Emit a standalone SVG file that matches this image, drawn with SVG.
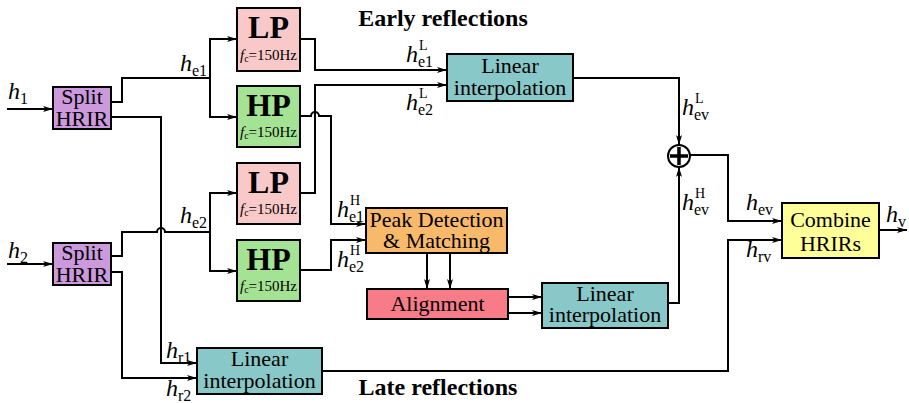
<svg xmlns="http://www.w3.org/2000/svg" width="909" height="403" viewBox="0 0 909 403" font-family="'Liberation Serif', 'DejaVu Serif', serif">
<style>
text{font-family:'Liberation Serif','DejaVu Serif',serif}
.box{stroke:#000;stroke-width:2}
.t{font-size:22px;text-anchor:middle;fill:#000}
.b{font-weight:bold;font-size:32px;text-anchor:middle}
.fc{font-size:15px;text-anchor:middle}
.ttl{font-weight:bold;font-size:24px;text-anchor:middle}
.h{font-style:italic;font-size:24px}
.s{font-size:16px}
.p{font-size:14px}
.c{fill:none;stroke:#000;stroke-width:2}
.a{marker-end:url(#ah)}
</style>
<defs>
<marker id="ah" viewBox="0 0 10 6" refX="10" refY="3" markerWidth="10" markerHeight="6" markerUnits="userSpaceOnUse" orient="auto"><path d="M0,0 L10,3 L0,6 L2.5,3 z" fill="#000"/></marker>
</defs>
<rect width="909" height="403" fill="#fff"/>

<g id="connectors">
<path class="c a" d="M7,109 H53"/>
<path class="c a" d="M7,264 H53"/>
<path class="c a" d="M111,102 H122 V78 H210 V39 H237"/>
<path class="c a" d="M210,78 V117 H237"/>
<path class="c a" d="M111,117 H161 V363 H197"/>
<path class="c a" d="M111,256 H122 V232 H157 A4,4 0 0 1 165,232 H210 V193 H237"/>
<path class="c a" d="M210,232 V271 H237"/>
<path class="c a" d="M111,272 H122 V378 H197"/>
<path class="c a" d="M300,39 H315 V70 H447"/>
<path class="c a" d="M300,116 H311 A4,4 0 0 1 319,116 H331 V224 H366"/>
<path class="c a" d="M300,193 H315 V85 H447"/>
<path class="c a" d="M300,270 H331 V240 H366"/>
<path class="c a" d="M427,253 V289"/>
<path class="c a" d="M450,253 V289"/>
<path class="c a" d="M508,297 H542"/>
<path class="c a" d="M508,313 H542"/>
<path class="c a" d="M573,78 H679 V145"/>
<path class="c a" d="M668,303 H679 V167"/>
<path class="c a" d="M690,155 H728 V221 H782"/>
<path class="c a" d="M322,371 H728 V240 H782"/>
<path class="c a" d="M879,230 H907"/>
</g>

<g id="split1"><rect class="box" x="53" y="87" width="58" height="42" fill="#CC99DD"/><text class="t" x="82" y="104">Split</text><text class="t" x="82" y="126">HRIR</text></g>
<g id="split2"><rect class="box" x="53" y="243" width="58" height="42" fill="#CC99DD"/><text class="t" x="82" y="260">Split</text><text class="t" x="82" y="282">HRIR</text></g>

<g id="lp1"><rect class="box" x="237" y="8" width="63" height="63" fill="#F9C9C9"/><text class="b" x="268.5" y="38">LP</text><text class="fc" x="268.5" y="60"><tspan font-style="italic">f</tspan><tspan font-size="10" dy="2">c</tspan><tspan dy="-2">=150Hz</tspan></text></g>
<g id="hp1"><rect class="box" x="237" y="86" width="63" height="61" fill="#A3E393"/><text class="b" x="268.5" y="116">HP</text><text class="fc" x="268.5" y="137"><tspan font-style="italic">f</tspan><tspan font-size="10" dy="2">c</tspan><tspan dy="-2">=150Hz</tspan></text></g>
<g id="lp2"><rect class="box" x="237" y="163" width="63" height="61" fill="#F9C9C9"/><text class="b" x="268.5" y="193">LP</text><text class="fc" x="268.5" y="214"><tspan font-style="italic">f</tspan><tspan font-size="10" dy="2">c</tspan><tspan dy="-2">=150Hz</tspan></text></g>
<g id="hp2"><rect class="box" x="237" y="240" width="63" height="61" fill="#A3E393"/><text class="b" x="268.5" y="270">HP</text><text class="fc" x="268.5" y="291"><tspan font-style="italic">f</tspan><tspan font-size="10" dy="2">c</tspan><tspan dy="-2">=150Hz</tspan></text></g>

<g id="li1"><rect class="box" x="447" y="54" width="126" height="47" fill="#88C8C8"/><text class="t" x="510" y="73">Linear</text><text class="t" x="510" y="95">interpolation</text></g>
<g id="peak"><rect class="box" x="366" y="208" width="141" height="45" fill="#F9B96B"/><text class="t" x="436.5" y="227">Peak Detection</text><text class="t" x="436.5" y="248">&amp; Matching</text></g>
<g id="align"><rect class="box" x="367" y="289" width="141" height="30" fill="#F87B88"/><text class="t" x="437.5" y="311">Alignment</text></g>
<g id="li2"><rect class="box" x="542" y="283" width="126" height="45" fill="#88C8C8"/><text class="t" x="605" y="301">Linear</text><text class="t" x="605" y="322">interpolation</text></g>
<g id="li3"><rect class="box" x="197" y="348" width="125" height="46" fill="#88C8C8"/><text class="t" x="259.5" y="366">Linear</text><text class="t" x="259.5" y="388">interpolation</text></g>
<g id="combine"><rect class="box" x="782" y="203" width="97" height="55" fill="#FFFF99"/><text class="t" x="830.5" y="227">Combine</text><text class="t" x="830.5" y="251">HRIRs</text></g>
<g id="sum"><circle cx="679" cy="156" r="11" fill="#fff" stroke="#000" stroke-width="2"/><path d="M670,156 H688 M679,147 V165" stroke="#000" stroke-width="3.5"/></g>

<g id="titles"><text class="ttl" x="443" y="26">Early reflections</text><text class="ttl" x="438" y="395">Late reflections</text></g>

<g id="labels">
<text class="h" x="8" y="99">h</text><text class="s" x="20" y="104">1</text>
<text class="h" x="8" y="258">h</text><text class="s" x="20" y="263">2</text>
<text class="h" x="180" y="71">h</text><text class="s" x="192" y="76">e1</text>
<text class="h" x="180" y="223">h</text><text class="s" x="192" y="228">e2</text>
<text class="h" x="166" y="358">h</text><text class="s" x="178" y="363">r1</text>
<text class="h" x="166" y="396">h</text><text class="s" x="178" y="401">r2</text>
<text class="h" x="406" y="62">h</text><text class="s" x="418" y="67">e1</text><text class="p" x="419" y="50">L</text>
<text class="h" x="406" y="110">h</text><text class="s" x="418" y="115">e2</text><text class="p" x="419" y="98">L</text>
<text class="h" x="337" y="217">h</text><text class="s" x="349" y="222">e1</text><text class="p" x="350" y="205">H</text>
<text class="h" x="337" y="267">h</text><text class="s" x="349" y="272">e2</text><text class="p" x="350" y="255">H</text>
<text class="h" x="682" y="115">h</text><text class="s" x="694" y="120">ev</text><text class="p" x="695" y="103">L</text>
<text class="h" x="682" y="210">h</text><text class="s" x="694" y="215">ev</text><text class="p" x="695" y="198">H</text>
<text class="h" x="746" y="210">h</text><text class="s" x="758" y="215">ev</text>
<text class="h" x="746" y="257">h</text><text class="s" x="758" y="262">rv</text>
<text class="h" x="886" y="222">h</text><text class="s" x="898" y="227">v</text>
</g>
</svg>
